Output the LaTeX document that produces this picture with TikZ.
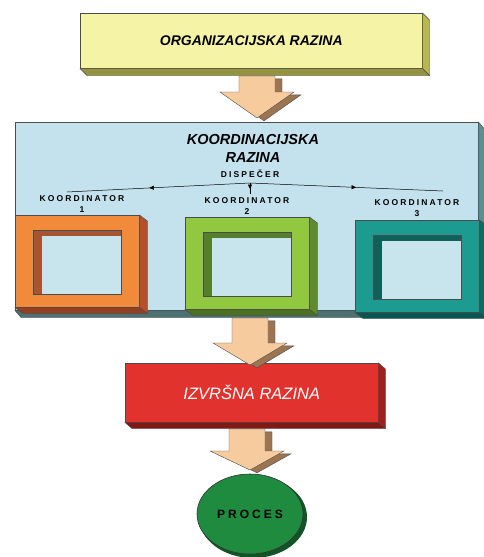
\documentclass[tikz,border=0pt]{standalone}
\usepackage{fontspec}
\setmainfont{Liberation Sans}
\newfontfamily\spaced[LetterSpace=25]{Liberation Sans}
\usetikzlibrary{calc,shapes.geometric,decorations.markings,arrows.meta}
\definecolor{yel}{HTML}{F4F3A6}
\definecolor{yelside}{HTML}{B8B850}
\definecolor{pnl}{HTML}{C4E2EE}
\definecolor{pnlside}{HTML}{5E8E90}
\definecolor{redf}{HTML}{E2322E}
\definecolor{redside}{HTML}{A01E1C}
\definecolor{orf}{HTML}{F28A3C}
\definecolor{orside}{HTML}{B5502A}
\definecolor{orwall}{HTML}{A65530}
\definecolor{grf}{HTML}{92C840}
\definecolor{grside}{HTML}{5E8C2C}
\definecolor{grwall}{HTML}{557F2A}
\definecolor{tef}{HTML}{1C9C90}
\definecolor{teside}{HTML}{0F6C64}
\definecolor{tewall}{HTML}{0F6058}
\definecolor{win}{HTML}{C8E4EC}
\definecolor{arrf}{HTML}{F6CB9E}
\definecolor{arrside}{HTML}{9C7450}
\definecolor{procg}{HTML}{1F8B3E}
\newcommand\extrude[4]{%
 \fill[#4, draw=black!70, line width=0.4pt] (#1.north east) -- ++(#2,#3) -- ($(#1.south east)+(#2,#3)$) -- (#1.south east) -- cycle;
 \fill[#4!80!black, draw=black!70, line width=0.4pt] (#1.south west) -- ++(#2,#3) -- ($(#1.south east)+(#2,#3)$) -- (#1.south east) -- cycle;}
\newcommand\blkshape[4]{% start, tip, headlen, offset
 let \p1=(#1),\p2=(#2) in
 (\x1-18pt+#4,\y1-#4*0.4) -- (\x1+18pt+#4,\y1-#4*0.4) -- (\x1+18pt+#4,\y2+#3-#4*0.4) -- (\x1+37pt+#4,\y2+#3-#4*0.4) -- (\x2+#4,\y2-#4*0.4) -- (\x1-37pt+#4,\y2+#3-#4*0.4) -- (\x1-18pt+#4,\y2+#3-#4*0.4) -- cycle}
\newcommand\blkarrow[3]{%
 \fill[arrside, draw=black!70, line width=0.4pt] \blkshape{#1}{#2}{#3}{7pt};
 \fill[arrf, draw=black!70, line width=0.4pt] \blkshape{#1}{#2}{#3}{0pt};}
\newcommand\coordframe[6]{% name, x, y, face, side, wall
 \node[face, fill=#4, minimum width=124, minimum height=92] (#1) at (#2,#3) {};
 \extrude{#1}{8}{6}{#5}
 \node[face, fill=#6, minimum width=88, minimum height=64] (#1w) at (#2+18,#3+15) {};
 \fill[win] ($(#1w.north west)+(9,6)$) rectangle (#1w.south east);
 \draw[black!70, line width=0.4pt] (#1w.north west) rectangle (#1w.south east);}
\begin{document}
\begin{tikzpicture}[x=1pt,y=-1pt,
 face/.style={draw=black!70, line width=0.5pt, inner sep=0, anchor=north west},
 lbl/.style={font=\spaced\bfseries\fontsize{8.5}{10.5}\selectfont, align=center, inner sep=0},
 conn/.style={line width=0.5pt, postaction={decorate}, decoration={markings, mark=at position 0.55 with {\arrow{Triangle[length=4.5pt,width=4pt]}}}}]
\useasboundingbox[fill=white] (0,0) rectangle (484,557);
% organizational level
\node[face, fill=yel, minimum width=342, minimum height=55, font=\bfseries\itshape\fontsize{14}{16}\selectfont] (org) at (80,13) {ORGANIZACIJSKA RAZINA};
\extrude{org}{7}{7}{yelside}
% coordination panel
\node[face, fill=pnl, minimum width=463, minimum height=188] (panel) at (15,122) {};
\extrude{panel}{6}{7}{pnlside}
\node[font=\bfseries\itshape\fontsize{14.5}{16}\selectfont, inner sep=0] (kr1) at (253,140) {KOORDINACIJSKA};
\node[font=\bfseries\itshape\fontsize{14.5}{16}\selectfont, inner sep=0] (kr2) at (253,158) {RAZINA};
\node[font=\spaced\bfseries\fontsize{8.5}{9}\selectfont, inner sep=0] (dsp) at (250,174) {DISPEČER};
\coordinate (disp) at (250,183);
\coordinate (e1) at (67,192);
\coordinate (e2) at (250,194);
\coordinate (e3) at (443,191);
\draw[conn] (disp) -- (e1);
\draw[conn] (disp) -- (e2);
\draw[conn] (disp) -- (e3);
\node[lbl] (k1) at (82,204) {KOORDINATOR\\1};
\node[lbl] (k2) at (247,206) {KOORDINATOR\\2};
\node[lbl] (k3) at (417,208) {KOORDINATOR\\3};
\coordframe{f1}{15}{215}{orf}{orside}{orwall}
\coordframe{f2}{185}{217}{grf}{grside}{grwall}
\coordframe{f3}{355}{220}{tef}{teside}{tewall}
% execution level
\node[face, fill=redf, minimum width=253, minimum height=59, text=white, font=\itshape\fontsize{16.5}{18}\selectfont] (exe) at (125,363) {IZVRŠNA RAZINA};
\extrude{exe}{7}{6}{redside}
% process
\fill[procg!60!black] (253,517) ellipse [x radius=54, y radius=41];
\node[ellipse, fill=procg, draw=black!80, line width=0.6pt, minimum width=106, minimum height=80, font=\spaced\bfseries\fontsize{12}{13}\selectfont] (proc) at (250,514) {PROCES};
% block arrows
\coordinate (a1s) at (257,76);
\coordinate (a1t) at (257,118);
\coordinate (a2s) at (250,318);
\coordinate (a2t) at (250,365);
\coordinate (a3s) at (247,429);
\coordinate (a3t) at (250,470);
\blkarrow{a1s}{a1t}{26pt}
\blkarrow{a2s}{a2t}{22pt}
\blkarrow{a3s}{a3t}{19pt}
\end{tikzpicture}
\end{document}
